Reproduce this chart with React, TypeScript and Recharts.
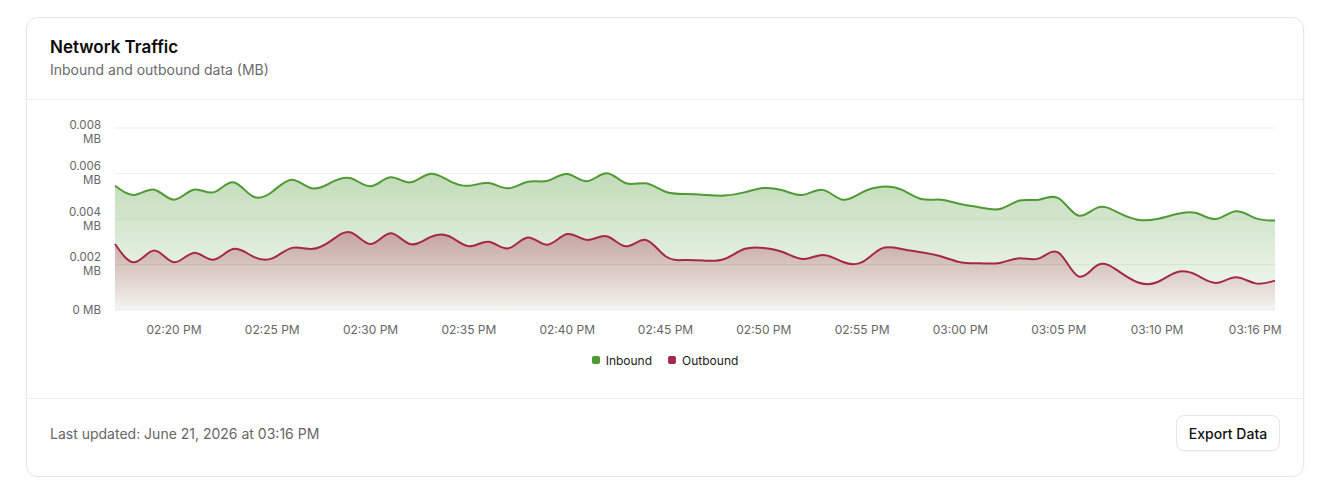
import React from "react";
import {
  AreaChart,
  Area,
  XAxis,
  YAxis,
  CartesianGrid,
  Legend,
} from "recharts";

const times: string[] = [
  "02:17 PM", "02:18 PM", "02:19 PM", "02:20 PM", "02:21 PM", "02:22 PM", "02:23 PM", "02:24 PM", "02:25 PM", "02:26 PM",
  "02:27 PM", "02:28 PM", "02:29 PM", "02:30 PM", "02:31 PM", "02:32 PM", "02:33 PM", "02:34 PM", "02:35 PM", "02:36 PM",
  "02:37 PM", "02:38 PM", "02:39 PM", "02:40 PM", "02:41 PM", "02:42 PM", "02:43 PM", "02:44 PM", "02:45 PM", "02:46 PM",
  "02:47 PM", "02:48 PM", "02:49 PM", "02:50 PM", "02:51 PM", "02:52 PM", "02:53 PM", "02:54 PM", "02:55 PM", "02:56 PM",
  "02:57 PM", "02:58 PM", "02:59 PM", "03:00 PM", "03:01 PM", "03:02 PM", "03:03 PM", "03:04 PM", "03:05 PM", "03:06 PM",
  "03:07 PM", "03:08 PM", "03:09 PM", "03:10 PM", "03:11 PM", "03:13 PM", "03:14 PM", "03:15 PM", "03:16 PM", "03:17 PM",
];

const inbound: number[] = [
  0.00546, 0.00506, 0.00529, 0.00485, 0.00529, 0.00517, 0.00561, 0.00500, 0.00520, 0.00573,
  0.00535, 0.00561, 0.00579, 0.00544, 0.00583, 0.00561, 0.00598, 0.00568, 0.00546, 0.00558,
  0.00535, 0.00564, 0.00568, 0.00598, 0.00566, 0.00601, 0.00557, 0.00557, 0.00520, 0.00510,
  0.00506, 0.00503, 0.00517, 0.00536, 0.00525, 0.00506, 0.00528, 0.00485, 0.00517, 0.00542,
  0.00529, 0.00488, 0.00485, 0.00466, 0.00451, 0.00444, 0.00481, 0.00485, 0.00491, 0.00415,
  0.00451, 0.00429, 0.00397, 0.00400, 0.00422, 0.00426, 0.00400, 0.00434, 0.00404, 0.00393,
];

const outbound: number[] = [
  0.00290, 0.00210, 0.00261, 0.00210, 0.00251, 0.00221, 0.00268, 0.00236, 0.00227, 0.00273,
  0.00268, 0.00305, 0.00341, 0.00290, 0.00337, 0.00290, 0.00319, 0.00324, 0.00280, 0.00300,
  0.00271, 0.00319, 0.00287, 0.00334, 0.00308, 0.00324, 0.00280, 0.00308, 0.00236, 0.00220,
  0.00217, 0.00224, 0.00268, 0.00273, 0.00254, 0.00224, 0.00242, 0.00212, 0.00210, 0.00271,
  0.00268, 0.00254, 0.00236, 0.00210, 0.00205, 0.00207, 0.00227, 0.00227, 0.00251, 0.00148,
  0.00198, 0.00173, 0.00122, 0.00122, 0.00166, 0.00154, 0.00119, 0.00144, 0.00117, 0.00129,
];

const xTicks: string[] = [
  "02:20 PM", "02:25 PM", "02:30 PM", "02:35 PM", "02:40 PM", "02:45 PM",
  "02:50 PM", "02:55 PM", "03:00 PM", "03:05 PM", "03:10 PM", "03:16 PM",
];

const yTicks: number[] = [0, 0.002, 0.004, 0.006, 0.008];

const seriesNames = ["Inbound", "Outbound"];
const GREEN = "#4f9a34";
const RED = "#a62848";

const data = times.map((t, i) => ({ time: t, inbound: inbound[i], outbound: outbound[i] }));

const FONT = "Inter, 'Noto Sans', sans-serif";

const YTick = (props: any) => {
  const { x, y, payload } = props;
  const v: number = payload.value;
  if (v === 0) {
    return (
      <text x={x} y={y} dy={4.2} textAnchor="end" fill="#666" fontSize={11.5} fontFamily={FONT}>
        0 MB
      </text>
    );
  }
  return (
    <text x={x} y={y} textAnchor="end" fill="#666" fontSize={11.5} fontFamily={FONT}>
      <tspan x={x} dy={-3.5}>{v.toFixed(3)}</tspan>
      <tspan x={x} dy={14}>MB</tspan>
    </text>
  );
};

const LegendContent = () => (
  <div
    style={{
      height: 40,
      display: "flex",
      justifyContent: "center",
      alignItems: "center",
      gap: 16,
      paddingLeft: 4,
      fontFamily: FONT,
      fontSize: 12,
      color: "#222",
    }}
  >
    {[GREEN, RED].map((c, i) => (
      <div key={i} style={{ display: "flex", alignItems: "center", gap: 6 }}>
        <span style={{ width: 8, height: 8, borderRadius: 2, background: c, display: "inline-block" }} />
        <span>{seriesNames[i]}</span>
      </div>
    ))}
  </div>
);

export default function App() {
  return (
    <div style={{ padding: "9px 0 0 18px", fontFamily: FONT, background: "#fff" }}>
      <style>{`.recharts-surface{overflow:visible}`}</style>
      <div
        style={{
          width: 1278,
          boxSizing: "border-box",
          border: "1px solid #e7e7e7",
          borderRadius: 12,
          background: "#fff",
          boxShadow: "0 1px 3px rgba(0,0,0,0.04)",
        }}
      >
        <div style={{ padding: "17px 23px 0 23px", borderBottom: "1px solid #eeeeee", height: 82, boxSizing: "border-box" }}>
          <div style={{ fontSize: 17, lineHeight: "24px", fontWeight: 600, color: "#0a0a0a" }}>Network Traffic</div>
          <div style={{ fontSize: 14, lineHeight: "20px", color: "#6b6b6b", marginTop: 1 }}>
            Inbound and outbound data (MB)
          </div>
        </div>
        <div style={{ padding: "23px 24px 18px 24px" }}>
          <AreaChart width={1228} height={257} data={data} margin={{ top: 5, right: 4, left: 0, bottom: 0 }}>
            <defs>
              <linearGradient id="gIn" x1="0" y1="0" x2="0" y2="1">
                <stop offset="0%" stopColor={GREEN} stopOpacity={0.58} />
                <stop offset="100%" stopColor={GREEN} stopOpacity={0.08} />
              </linearGradient>
              <linearGradient id="gOut" x1="0" y1="0" x2="0" y2="1">
                <stop offset="0%" stopColor={RED} stopOpacity={0.6} />
                <stop offset="100%" stopColor={RED} stopOpacity={0.04} />
              </linearGradient>
            </defs>
            <CartesianGrid vertical={false} stroke="#efefef" />
            <XAxis
              dataKey="time"
              ticks={xTicks}
              tickLine={false}
              axisLine={false}
              tickMargin={9}
              tick={{ fill: "#666", fontSize: 12, fontFamily: FONT }}
            />
            <YAxis
              width={64}
              domain={[0, 0.008]}
              ticks={yTicks}
              tickLine={false}
              axisLine={false}
              tickMargin={8}
              tick={<YTick />}
            />
            <Legend verticalAlign="bottom" content={<LegendContent />} />
            <Area
              type="natural"
              dataKey="inbound"
              name="Inbound"
              stroke={GREEN}
              strokeWidth={2}
              fill="url(#gIn)"
              isAnimationActive={false}
              dot={false}
            />
            <Area
              type="natural"
              dataKey="outbound"
              name="Outbound"
              stroke={RED}
              strokeWidth={2}
              fill="url(#gOut)"
              isAnimationActive={false}
              dot={false}
            />
          </AreaChart>
        </div>
        <div
          style={{
            borderTop: "1px solid #eeeeee",
            padding: "16px 23px 25px 23px",
            display: "flex",
            justifyContent: "space-between",
            alignItems: "center",
          }}
        >
          <div style={{ fontSize: 14, color: "#666" }}>Last updated: June 21, 2026 at 03:16 PM</div>
          <button
            style={{
              width: 104,
              height: 36,
              border: "1px solid #e5e5e5",
              borderRadius: 8,
              background: "#fff",
              fontFamily: FONT,
              fontSize: 14,
              fontWeight: 500,
              color: "#111",
              boxShadow: "0 1px 2px rgba(0,0,0,0.04)",
              cursor: "pointer",
            }}
          >
            Export Data
          </button>
        </div>
      </div>
    </div>
  );
}
